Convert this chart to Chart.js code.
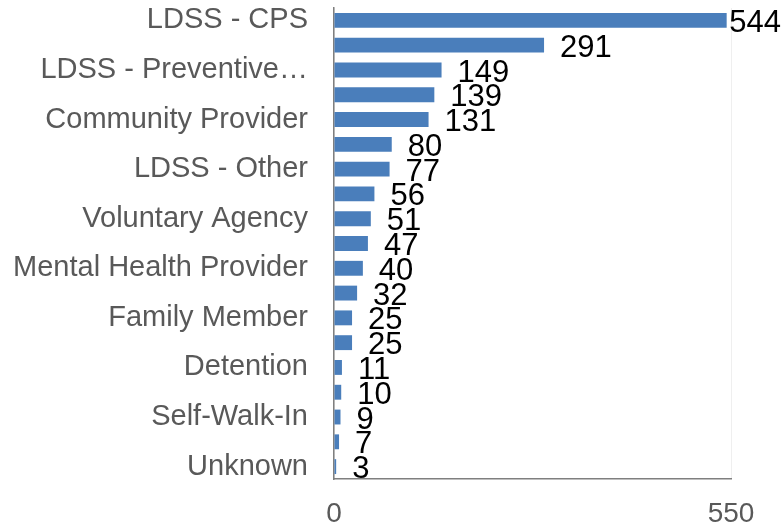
<!DOCTYPE html>
<html>
<head>
<meta charset="utf-8">
<script src="https://cdn.jsdelivr.net/npm/chart.js@4/dist/chart.umd.min.js"></script>
<style>
html,body{margin:0;padding:0;background:#fff;}
#wrap{width:782px;height:527px;}
</style>
</head>
<body>
<div id="wrap"><canvas id="c" width="782" height="527"></canvas></div>
<script>
const categories = [
  'LDSS - CPS', '', 'LDSS - Preventive\u2026', '', 'Community Provider', '',
  'LDSS - Other', '', 'Voluntary Agency', '', 'Mental Health Provider', '',
  'Family Member', '', 'Detention', '', 'Self-Walk-In', '', 'Unknown'
];
const values = [544, 291, 149, 139, 131, 80, 77, 56, 51, 47, 40, 32, 25, 25, 11, 10, 9, 7, 3];
const xTicks = [0, 550];

const FONT = '"Liberation Sans", Arial, sans-serif';

const valueLabels = {
  id: 'valueLabels',
  afterDatasetsDraw(chart) {
    const ctx = chart.ctx;
    const meta = chart.getDatasetMeta(0);
    ctx.save();
    ctx.font = '31px ' + FONT;
    ctx.fillStyle = '#000000';
    ctx.textAlign = 'left';
    ctx.textBaseline = 'middle';
    meta.data.forEach((bar, i) => {
      const txt = String(values[i]);
      const w = ctx.measureText(txt).width;
      let x = bar.x + 16;
      if (x + w > chart.width - 1) x = chart.width - 1 - w;
      ctx.fillText(txt, x, bar.y + 3);
    });
    ctx.restore();
  }
};

new Chart(document.getElementById('c'), {
  type: 'bar',
  data: {
    labels: categories,
    datasets: [{
      data: values,
      backgroundColor: '#4a7ebb',
      borderWidth: 0,
      categoryPercentage: 1.0,
      barPercentage: 0.6
    }]
  },
  options: {
    indexAxis: 'y',
    responsive: false,
    animation: false,
    events: [],
    layout: { padding: { top: 8, right: 51, left: 0, bottom: 0 } },
    plugins: { legend: { display: false }, tooltip: { enabled: false } },
    scales: {
      x: {
        min: xTicks[0],
        max: xTicks[xTicks.length - 1],
        afterBuildTicks(scale) { scale.ticks = xTicks.map(v => ({ value: v })); },
        afterFit(scale) { scale.height = 48; scale.paddingLeft = 0; scale.paddingRight = 0; },
        grid: { color: '#efefef', lineWidth: 1, drawTicks: false },
        border: { color: '#7f7f7f', width: 1.5 },
        ticks: { color: '#595959', font: { size: 28, family: FONT }, padding: 18, maxRotation: 0 }
      },
      y: {
        afterFit(scale) { scale.width = 334; scale.paddingTop = 0; scale.paddingBottom = 0; },
        grid: { display: false, drawTicks: false },
        border: { color: '#7f7f7f', width: 1.5 },
        ticks: { color: '#595959', font: { size: 29, family: FONT }, padding: 26, autoSkip: false }
      }
    }
  },
  plugins: [valueLabels]
});
</script>
</body>
</html>
